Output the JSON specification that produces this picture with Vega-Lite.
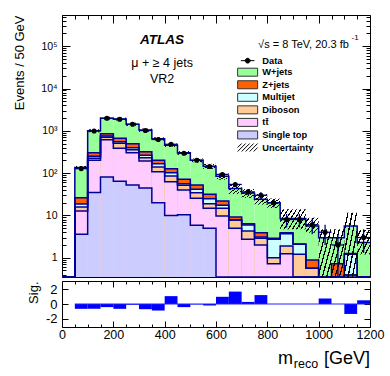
{
  "$schema": "https://vega.github.io/schema/vega-lite/v6.json",
  "background": "white",
  "padding": {"left": 12, "top": 14, "right": 18, "bottom": 2},
  "autosize": {"type": "pad"},
  "config": {
    "font": "Liberation Sans",
    "view": {"stroke": "black", "strokeWidth": 1},
    "axis": {"domain": false, "grid": false, "tickColor": "black", "labelColor": "black", "titleColor": "black", "labelFont": "Liberation Sans", "titleFont": "Liberation Sans", "titleFontWeight": "normal", "labelFlush": false, "labelOverlap": false, "labelBound": false, "tickWidth": 1, "minExtent": 0},
    "text": {"font": "Liberation Sans", "color": "black"}
  },
  "datasets": {
    "h": [
      {"lo": 0, "hi": 50, "m": 25, "w": 0.01, "z": 0.01, "mj": 0.01, "db": 0.01, "tt": 0.01, "st": 0.01, "n": null, "nlo": null, "nhi": null, "ulo": null, "uhi": null, "sig": null},
      {"lo": 50, "hi": 100, "m": 75, "w": 135.5, "z": 26.2, "mj": 18.6, "db": 15.8, "tt": 12.7, "st": 3.57, "n": 128, "nlo": 116.7, "nhi": 139.3, "ulo": 124, "uhi": 147, "sig": -0.65},
      {"lo": 100, "hi": 150, "m": 125, "w": 1010, "z": 304, "mj": 250, "db": 224, "tt": 201, "st": 34.8, "n": 989, "nlo": 957.6, "nhi": 1020.4, "ulo": 930, "uhi": 1090, "sig": -0.65},
      {"lo": 150, "hi": 200, "m": 175, "w": 1994, "z": 854, "mj": 754, "db": 702, "tt": 616, "st": 80.9, "n": 1975, "nlo": 1930.6, "nhi": 2019.4, "ulo": 1840, "uhi": 2150, "sig": -0.42},
      {"lo": 200, "hi": 250, "m": 225, "w": 1901, "z": 665, "mj": 552, "db": 506, "tt": 386, "st": 64, "n": 1873, "nlo": 1829.7, "nhi": 1916.3, "ulo": 1750, "uhi": 2050, "sig": -0.65},
      {"lo": 250, "hi": 300, "m": 275, "w": 1429, "z": 496, "mj": 398, "db": 357, "tt": 304, "st": 52.3, "n": 1425, "nlo": 1387.3, "nhi": 1462.7, "ulo": 1310, "uhi": 1550, "sig": -0.1},
      {"lo": 300, "hi": 350, "m": 325, "w": 1039, "z": 320, "mj": 264, "db": 231, "tt": 193, "st": 44.4, "n": 1016, "nlo": 984.1, "nhi": 1047.9, "ulo": 950, "uhi": 1130, "sig": -0.7},
      {"lo": 350, "hi": 400, "m": 375, "w": 645, "z": 201, "mj": 167, "db": 139, "tt": 108, "st": 20, "n": 623, "nlo": 598, "nhi": 648, "ulo": 590, "uhi": 700, "sig": -0.88},
      {"lo": 400, "hi": 450, "m": 425, "w": 457, "z": 127, "mj": 102, "db": 85.4, "tt": 62.6, "st": 10, "n": 480, "nlo": 458.1, "nhi": 501.9, "ulo": 415, "uhi": 500, "sig": 1.06},
      {"lo": 450, "hi": 500, "m": 475, "w": 301, "z": 71.3, "mj": 56.2, "db": 51.5, "tt": 39.8, "st": 10.4, "n": 294, "nlo": 276.9, "nhi": 311.1, "ulo": 270, "uhi": 332, "sig": -0.42},
      {"lo": 500, "hi": 550, "m": 525, "w": 201, "z": 52.3, "mj": 41.4, "db": 34.4, "tt": 25.4, "st": 5.83, "n": 201, "nlo": 186.8, "nhi": 215.2, "ulo": 180, "uhi": 222, "sig": -0.05},
      {"lo": 550, "hi": 600, "m": 575, "w": 146, "z": 31.5, "mj": 24.8, "db": 18.9, "tt": 14.7, "st": 4.95, "n": 143, "nlo": 131, "nhi": 155, "ulo": 126, "uhi": 166, "sig": -0.2},
      {"lo": 600, "hi": 650, "m": 625, "w": 84, "z": 21.9, "mj": 17.3, "db": 14.7, "tt": 9.68, "st": 0.01, "n": 93, "nlo": 83.4, "nhi": 102.6, "ulo": 70, "uhi": 98, "sig": 0.97},
      {"lo": 650, "hi": 700, "m": 675, "w": 43, "z": 9.17, "mj": 7.79, "db": 7.79, "tt": 4.95, "st": 0.01, "n": 54, "nlo": 46.7, "nhi": 61.3, "ulo": 32, "uhi": 54, "sig": 1.67},
      {"lo": 700, "hi": 750, "m": 725, "w": 34, "z": 6.37, "mj": 5.93, "db": 4.28, "tt": 2.72, "st": 0.01, "n": 36, "nlo": 30, "nhi": 42, "ulo": 26, "uhi": 42, "sig": 0.28},
      {"lo": 750, "hi": 800, "m": 775, "w": 24, "z": 3.9, "mj": 3.1, "db": 2.87, "tt": 2.0, "st": 0.01, "n": 30, "nlo": 24.5, "nhi": 35.5, "ulo": 18, "uhi": 32, "sig": 1.2},
      {"lo": 800, "hi": 850, "m": 825, "w": 20, "z": 2.87, "mj": 2.72, "db": 1.0, "tt": 0.72, "st": 0.01, "n": 20, "nlo": 15.5, "nhi": 24.5, "ulo": 15, "uhi": 25, "sig": 0},
      {"lo": 850, "hi": 900, "m": 875, "w": 8.5, "z": 3.9, "mj": 3.69, "db": 1.89, "tt": 1.24, "st": 0.01, "n": 8, "nlo": 5.2, "nhi": 10.8, "ulo": 4.7, "uhi": 14, "sig": 0},
      {"lo": 900, "hi": 950, "m": 925, "w": 8.5, "z": 2.1, "mj": 2.07, "db": 1.2, "tt": 0.01, "st": 0.01, "n": 8, "nlo": 5.2, "nhi": 10.8, "ulo": 4.7, "uhi": 14, "sig": 0},
      {"lo": 950, "hi": 1000, "m": 975, "w": 5.6, "z": 0.88, "mj": 0.56, "db": 0.56, "tt": 0.01, "st": 0.01, "n": 6, "nlo": 3.6, "nhi": 8.4, "ulo": 3.9, "uhi": 8.8, "sig": 0},
      {"lo": 1000, "hi": 1050, "m": 1025, "w": 2.97, "z": 0.01, "mj": 0.01, "db": 0.01, "tt": 0.01, "st": 0.01, "n": 4, "nlo": 2, "nhi": 6, "ulo": 0.01, "uhi": 4.7, "sig": 0.74},
      {"lo": 1050, "hi": 1100, "m": 1075, "w": 2.97, "z": 0.72, "mj": 0.01, "db": 0.01, "tt": 0.01, "st": 0.01, "n": 2, "nlo": 0.3, "nhi": 3.6, "ulo": 0.01, "uhi": 4.7, "sig": 0},
      {"lo": 1100, "hi": 1150, "m": 1125, "w": 5.6, "z": 1.25, "mj": 1.2, "db": 0.39, "tt": 0.39, "st": 0.01, "n": null, "nlo": null, "nhi": null, "ulo": 0.01, "uhi": 11.5, "sig": -1.34},
      {"lo": 1150, "hi": 1200, "m": 1175, "w": 2.3, "z": 0.01, "mj": 0.01, "db": 0.01, "tt": 0.01, "st": 0.01, "n": 3, "nlo": 1.3, "nhi": 4.7, "ulo": 1.2, "uhi": 4.5, "sig": 0.5}
    ]
  },
  "spacing": -3,
  "vconcat": [
    {
      "width": 308,
      "height": 262,
      "data": {"name": "h"},
      "layer": [
        {
          "transform": [{"fold": ["w", "z", "mj", "db", "tt", "st"], "as": ["proc", "top"]}],
          "mark": {"type": "rect", "strokeWidth": 0},
          "encoding": {
            "x": {"field": "lo", "type": "quantitative", "scale": {"domain": [0, 1200], "nice": false, "zero": false},
              "axis": {"orient": "bottom", "values": [0,50,100,150,200,250,300,350,400,450,500,550,600,650,700,750,800,850,900,950,1000,1050,1100,1150,1200], "labels": false, "title": null,
                "tickSize": {"condition": {"test": "datum.value % 200 === 0", "value": -8}, "value": -4}}},
            "x2": {"field": "hi"},
            "y": {"field": "top", "type": "quantitative", "scale": {"type": "log", "domain": [0.35, 547000], "nice": false, "clamp": true},
              "axis": {"orient": "left", "values": [0.4,0.5,0.6,0.7,0.8,0.9,1,2,3,4,5,6,7,8,9,10,20,30,40,50,60,70,80,90,100,200,300,400,500,600,700,800,900,1000,2000,3000,4000,5000,6000,7000,8000,9000,10000,20000,30000,40000,50000,60000,70000,80000,90000,100000,200000,300000,400000,500000],
                "labelExpr": "datum.value === 1 ? '1' : datum.value === 10 ? '10' : datum.value === 100 ? '10²' : datum.value === 1000 ? '10³' : datum.value === 10000 ? '10⁴' : datum.value === 100000 ? '10⁵' : ''",
                "labelFontSize": {"condition": {"test": "indexof([1,10,100,1000,10000,100000], datum.value) >= 0", "value": 10.5}, "value": 0},
                "labelPadding": 13,
                "tickSize": {"condition": {"test": "indexof([1,10,100,1000,10000,100000], datum.value) >= 0", "value": -8}, "value": -4},
                "title": "Events / 50 GeV", "titleFontSize": 13, "titleAngle": -90, "titleAlign": "right", "titleBaseline": "alphabetic", "titleX": -39, "titleY": 0}},
            "y2": {"datum": 0.01},
            "color": {"field": "proc", "type": "nominal",
              "scale": {"domain": ["data", "w", "z", "mj", "db", "tt", "st", "unc"], "range": ["#000000", "#99ff99", "#ff6000", "#ccffff", "#ffcc99", "#ffccff", "#ccccff", "#ffffff"]},
              "legend": {"orient": "none", "legendX": 181, "legendY": 41, "title": null, "direction": "vertical",
                "labelExpr": "{'data':'Data','w':'W+jets','z':'Z+jets','mj':'Multijet','db':'Diboson','tt':'tt̄','st':'Single top','unc':'Uncertainty'}[datum.value]",
                "labelFont": "Liberation Sans", "labelFontWeight": "bold", "labelFontSize": 9.3, "labelColor": "black",
                "symbolSize": 64, "rowPadding": -0.45, "labelOffset": 10,
                "encode": {"symbols": {"update": {
                  "shape": [
                    {"test": "datum.value === 'data'", "value": "M-1.7,0L1.7,0M0.6,0A0.6,0.6,0,1,1,-0.6,0A0.6,0.6,0,1,1,0.6,0Z"},
                    {"test": "datum.value === 'unc'", "value": "M-2.5,0L-1.5,-1M-2.5,1L-0.5,-1M-1.5,1L0.5,-1M-0.5,1L1.5,-1M0.5,1L2.5,-1M1.5,1L2.5,0"},
                    {"value": "M-2.5,-1L2.5,-1L2.5,1L-2.5,1Z"}],
                  "stroke": [{"test": "datum.value === 'unc'", "value": "#000000"}, {"test": "datum.value === 'data'", "value": "#000000"}, {"value": "#333333"}],
                  "strokeWidth": {"value": 1},
                  "size": {"value": 64},
                  "opacity": {"value": 1}
                }}}}}
          }
        },
        {
          "transform": [{"fold": ["w", "z", "mj", "db", "tt", "st"], "as": ["proc", "top"]}, {"fold": ["lo", "hi"], "as": ["edge", "xe"]}],
          "mark": {"type": "line", "color": "#000099", "strokeWidth": 1.5, "interpolate": "linear"},
          "encoding": {
            "x": {"field": "xe", "type": "quantitative", "axis": null},
            "y": {"field": "top", "type": "quantitative", "axis": null},
            "detail": {"field": "proc", "type": "nominal"},
            "order": [{"field": "xe", "type": "quantitative"}, {"field": "edge", "type": "nominal"}]
          }
        },
        {
          "mark": {"type": "rect", "strokeWidth": 0, "fill": {"gradient": "linear", "x1": 0, "y1": 0, "x2": 1, "y2": 1, "stops": [
            {"offset": 0, "color": "rgba(0,0,0,0)"}, {"offset": 0.117, "color": "rgba(0,0,0,0)"}, {"offset": 0.117, "color": "#000000"}, {"offset": 0.1667, "color": "#000000"},
            {"offset": 0.1667, "color": "rgba(0,0,0,0)"}, {"offset": 0.2833, "color": "rgba(0,0,0,0)"}, {"offset": 0.2833, "color": "#000000"}, {"offset": 0.3333, "color": "#000000"},
            {"offset": 0.3333, "color": "rgba(0,0,0,0)"}, {"offset": 0.45, "color": "rgba(0,0,0,0)"}, {"offset": 0.45, "color": "#000000"}, {"offset": 0.5, "color": "#000000"},
            {"offset": 0.5, "color": "rgba(0,0,0,0)"}, {"offset": 0.6167, "color": "rgba(0,0,0,0)"}, {"offset": 0.6167, "color": "#000000"}, {"offset": 0.6667, "color": "#000000"},
            {"offset": 0.6667, "color": "rgba(0,0,0,0)"}, {"offset": 0.7833, "color": "rgba(0,0,0,0)"}, {"offset": 0.7833, "color": "#000000"}, {"offset": 0.8333, "color": "#000000"},
            {"offset": 0.8333, "color": "rgba(0,0,0,0)"}, {"offset": 0.95, "color": "rgba(0,0,0,0)"}, {"offset": 0.95, "color": "#000000"}, {"offset": 1, "color": "#000000"}]}},
          "encoding": {
            "x": {"field": "lo", "type": "quantitative",
              "axis": {"orient": "top", "values": [0,50,100,150,200,250,300,350,400,450,500,550,600,650,700,750,800,850,900,950,1000,1050,1100,1150,1200], "labels": false, "title": null,
                "tickSize": {"condition": {"test": "datum.value % 200 === 0", "value": -8}, "value": -4}}},
            "x2": {"field": "hi"},
            "y": {"field": "uhi", "type": "quantitative",
              "axis": {"orient": "right", "values": [0.4,0.5,0.6,0.7,0.8,0.9,1,2,3,4,5,6,7,8,9,10,20,30,40,50,60,70,80,90,100,200,300,400,500,600,700,800,900,1000,2000,3000,4000,5000,6000,7000,8000,9000,10000,20000,30000,40000,50000,60000,70000,80000,90000,100000,200000,300000,400000,500000],
                "labels": false, "title": null,
                "tickSize": {"condition": {"test": "indexof([1,10,100,1000,10000,100000], datum.value) >= 0", "value": -8}, "value": -4}}},
            "y2": {"field": "ulo"}
          }
        },
        {
          "mark": {"type": "rule", "color": "#000080", "strokeWidth": 1.3},
          "encoding": {
            "x": {"field": "m", "type": "quantitative", "axis": null},
            "y": {"field": "nlo", "type": "quantitative", "axis": null},
            "y2": {"field": "nhi"}
          }
        },
        {
          "mark": {"type": "rule", "color": "#000080", "strokeWidth": 1.3},
          "encoding": {
            "x": {"field": "lo", "type": "quantitative", "axis": null},
            "x2": {"field": "hi"},
            "y": {"field": "n", "type": "quantitative", "axis": null}
          }
        },
        {
          "mark": {"type": "point", "shape": "circle", "filled": true, "size": 26, "color": "#000000", "opacity": 1},
          "encoding": {
            "x": {"field": "m", "type": "quantitative", "axis": null},
            "y": {"field": "n", "type": "quantitative", "axis": null}
          }
        },
        {
          "data": {"values": [{"t": "ATLAS"}]},
          "mark": {"type": "text", "align": "center", "baseline": "alphabetic", "fontSize": 13.5, "fontWeight": "bold", "fontStyle": "italic"},
          "encoding": {"x": {"datum": 390, "type": "quantitative", "axis": null}, "y": {"datum": 114000, "type": "quantitative", "axis": null}, "text": {"field": "t"}}
        },
        {
          "data": {"values": [{"t": "μ + ≥ 4 jets"}]},
          "mark": {"type": "text", "align": "center", "baseline": "alphabetic", "fontSize": 12.5},
          "encoding": {"x": {"datum": 390, "type": "quantitative", "axis": null}, "y": {"datum": 31400, "type": "quantitative", "axis": null}, "text": {"field": "t"}}
        },
        {
          "data": {"values": [{"t": "VR2"}]},
          "mark": {"type": "text", "align": "center", "baseline": "alphabetic", "fontSize": 12.5},
          "encoding": {"x": {"datum": 390, "type": "quantitative", "axis": null}, "y": {"datum": 13700, "type": "quantitative", "axis": null}, "text": {"field": "t"}}
        },
        {
          "data": {"values": [{"t": "√s = 8 TeV, 20.3 fb"}]},
          "mark": {"type": "text", "align": "left", "baseline": "alphabetic", "fontSize": 11},
          "encoding": {"x": {"datum": 764, "type": "quantitative", "axis": null}, "y": {"datum": 90700, "type": "quantitative", "axis": null}, "text": {"field": "t"}}
        },
        {
          "data": {"values": [{"t": "-1"}]},
          "mark": {"type": "text", "align": "left", "baseline": "alphabetic", "fontSize": 8},
          "encoding": {"x": {"datum": 1128, "type": "quantitative", "axis": null}, "y": {"datum": 140000, "type": "quantitative", "axis": null}, "text": {"field": "t"}}
        }
      ],
      "resolve": {"axis": {"x": "independent", "y": "independent"}}
    },
    {
      "width": 308,
      "height": 46,
      "data": {"name": "h"},
      "layer": [
        {
          "mark": {"type": "rect", "color": "#0000ff", "strokeWidth": 0},
          "encoding": {
            "x": {"field": "lo", "type": "quantitative", "scale": {"domain": [0, 1200], "nice": false, "zero": false},
              "axis": {"orient": "bottom", "values": [0,50,100,150,200,250,300,350,400,450,500,550,600,650,700,750,800,850,900,950,1000,1050,1100,1150,1200],
                "labelExpr": "datum.value % 200 === 0 ? format(datum.value, 'd') : ''",
                "labelFontSize": {"condition": {"test": "datum.value % 200 === 0", "value": 12.5}, "value": 0},
                "labelPadding": 7, "title": null,
                "tickSize": {"condition": {"test": "datum.value % 200 === 0", "value": -6}, "value": -3}}},
            "x2": {"field": "hi"},
            "y": {"field": "sig", "type": "quantitative", "scale": {"domain": [-3.1, 3.1], "nice": false, "zero": false},
              "axis": {"orient": "left", "values": [-2, 0, 2],
                "labelExpr": "datum.value === 2 ? '2' : datum.value === 0 ? '0' : '-2'", "labelFontSize": 13, "labelPadding": 11,
                "tickSize": -6,
                "title": "Sig.", "titleFontSize": 13, "titleAngle": -90, "titleAlign": "right", "titleBaseline": "alphabetic", "titleX": -24.5, "titleY": 0}},
            "y2": {"datum": 0}
          }
        },
        {
          "data": {"values": [{"a": 0}]},
          "mark": {"type": "rule", "color": "#2020ff", "strokeWidth": 1},
          "encoding": {"x": {"datum": 50, "type": "quantitative", "axis": null}, "x2": {"datum": 1200}, "y": {"datum": 0, "type": "quantitative", "axis": null}}
        },
        {
          "mark": {"type": "rule", "opacity": 0},
          "encoding": {
            "x": {"field": "lo", "type": "quantitative",
              "axis": {"orient": "top", "values": [0,50,100,150,200,250,300,350,400,450,500,550,600,650,700,750,800,850,900,950,1000,1050,1100,1150,1200], "labels": false, "title": null,
                "tickSize": {"condition": {"test": "datum.value % 200 === 0", "value": -6}, "value": -3}}},
            "y": {"field": "sig", "type": "quantitative",
              "axis": {"orient": "right", "values": [-2, 0, 2], "labels": false, "title": null, "tickSize": -6}}
          }
        },
        {
          "data": {"values": [{"t": "m"}]},
          "mark": {"type": "text", "align": "right", "baseline": "alphabetic", "fontSize": 18},
          "encoding": {"x": {"datum": 900, "type": "quantitative", "axis": null}, "y": {"datum": -8.1, "type": "quantitative", "axis": null}, "text": {"field": "t"}}
        },
        {
          "data": {"values": [{"t": "reco"}]},
          "mark": {"type": "text", "align": "left", "baseline": "alphabetic", "fontSize": 12.5},
          "encoding": {"x": {"datum": 903, "type": "quantitative", "axis": null}, "y": {"datum": -8.65, "type": "quantitative", "axis": null}, "text": {"field": "t"}}
        },
        {
          "data": {"values": [{"t": "[GeV]"}]},
          "mark": {"type": "text", "align": "right", "baseline": "alphabetic", "fontSize": 18},
          "encoding": {"x": {"datum": 1200, "type": "quantitative", "axis": null}, "y": {"datum": -8.1, "type": "quantitative", "axis": null}, "text": {"field": "t"}}
        }
      ],
      "resolve": {"axis": {"x": "independent", "y": "independent"}}
    }
  ]
}
